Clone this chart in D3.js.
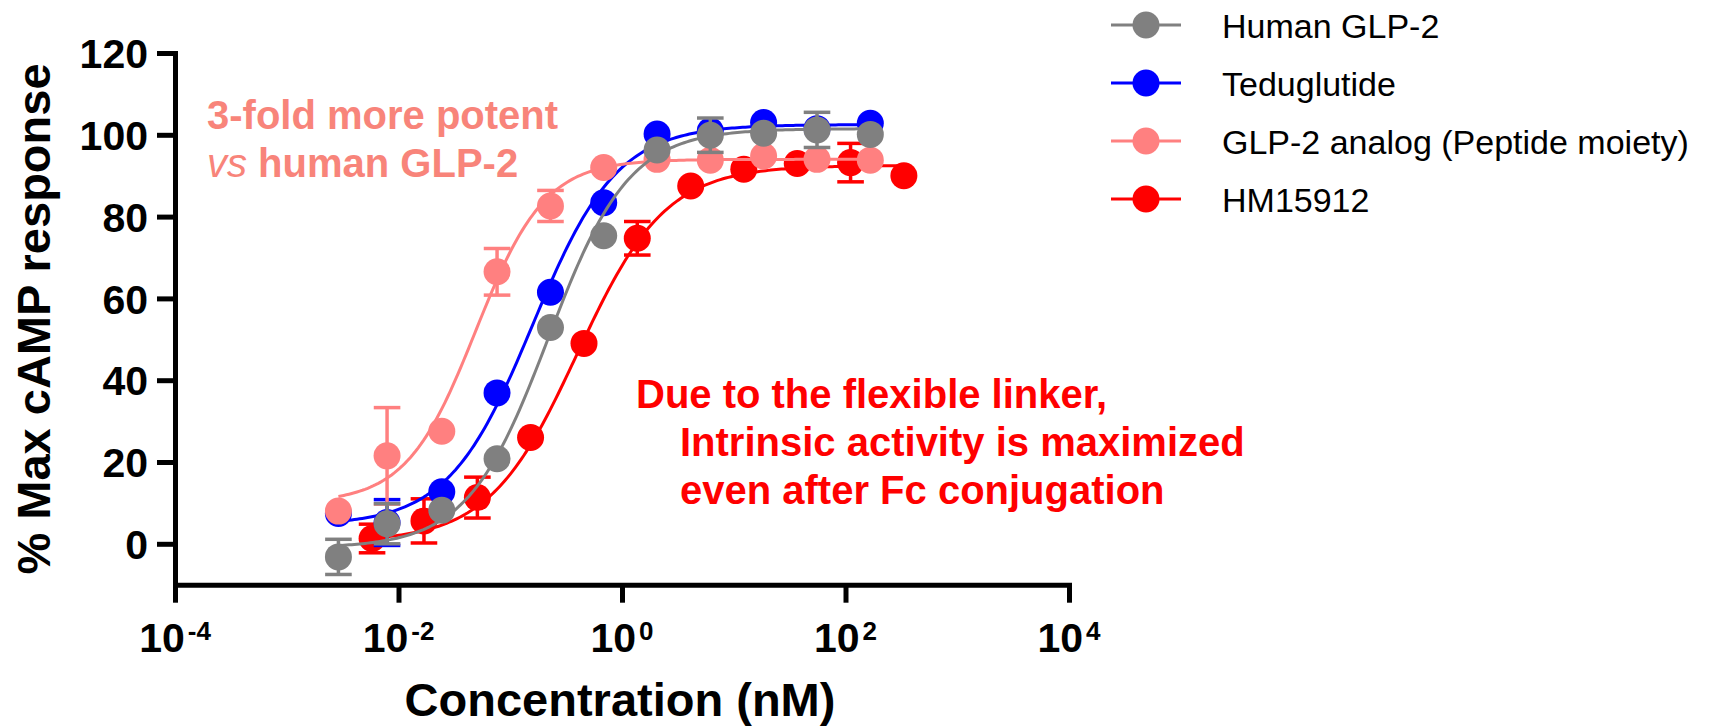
<!DOCTYPE html>
<html><head><meta charset="utf-8">
<script src="https://cdn.jsdelivr.net/npm/d3@7"></script>
<style>
body{margin:0;background:#fff}
svg{display:block}
text{font-family:"Liberation Sans",Arial,Helvetica,sans-serif}
</style>
</head><body>
<svg id="chart" width="1711" height="728"></svg>
<script>
// ---------- data ----------
const seriesNames  = ["Human GLP-2", "Teduglutide", "GLP-2 analog (Peptide moiety)", "HM15912"];
const seriesColors = ["#808080", "#0000FF", "#FF8080", "#FF0000"];

// concentrations (nM)
const concPeptides = [0.0029, 0.0079, 0.0244, 0.0762, 0.229, 0.686, 2.06, 6.17, 18.5, 55.6, 166.7];
const concHM15912  = [0.0058, 0.0169, 0.0508, 0.152, 0.457, 1.37, 4.12, 12.3, 37.0, 111, 333];

// % max cAMP response (mean) and SD (0 = hidden behind marker)
const humanGLP2     = [-3.2, 4.9, 8.2, 20.8, 52.9, 75.3, 96.3, 99.9, 100.4, 101.2, 100.1];
const humanGLP2SD   = [4.3, 4.9, 0, 0, 0, 0, 0, 4.2, 0, 4.3, 0];
const teduglutide   = [7.4, 5.2, 12.7, 36.9, 61.5, 83.4, 100.2, 101.0, 103.0, 101.5, 102.8];
const teduglutideSD = [0, 5.6, 0, 0, 0, 0, 0, 0, 0, 0, 0];
const analog        = [8.0, 21.5, 27.5, 66.5, 82.6, 92.0, 94.0, 93.8, 94.8, 94.0, 93.8];
const analogSD      = [0, 11.8, 0, 5.7, 3.8, 0, 0, 0, 0, 0, 0];
const hm15912       = [1.3, 5.6, 11.3, 26.0, 49.0, 74.7, 87.5, 91.6, 93.0, 93.2, 90.0];
const hm15912SD     = [3.5, 5.4, 5.0, 0, 0, 4.1, 0, 0, 0, 4.7, 0];

// fitted 4-parameter logistic curves
const fitBottom  = [-1, 4.5, 10, 0.5];
const fitTop     = [101.5, 102.5, 94, 92.5];
const fitLogEC50 = [-0.66, -0.80, -1.31, -0.40];
const fitHill    = [1.2, 1.15, 1.4, 1.1];

const yTicks   = [0, 20, 40, 60, 80, 100, 120];
const xTickExp = ["-4", "-2", "0", "2", "4"];

const annotPotent = ["3-fold more potent", "human GLP-2"];
const annotLinker = ["Due to the flexible linker,", "Intrinsic activity is maximized", "even after Fc conjugation"];

// ---------- build ----------
const series = [
  {name: seriesNames[0], color: seriesColors[0], conc: concPeptides, mean: humanGLP2, sd: humanGLP2SD, fit: 0},
  {name: seriesNames[1], color: seriesColors[1], conc: concPeptides, mean: teduglutide, sd: teduglutideSD, fit: 1},
  {name: seriesNames[2], color: seriesColors[2], conc: concPeptides, mean: analog, sd: analogSD, fit: 2},
  {name: seriesNames[3], color: seriesColors[3], conc: concHM15912, mean: hm15912, sd: hm15912SD, fit: 3}
];

const svg = d3.select("#chart");
const x = d3.scaleLog().domain([1e-4, 1e4]).range([175, 1069]);
const y = d3.scaleLinear().domain([-10, 120]).range([584.7, 53]);

// axes
const gy = svg.append("g").attr("transform", `translate(${x(1e-4)},0)`)
  .call(d3.axisLeft(y).tickValues(yTicks).tickSize(18).tickSizeOuter(0).tickPadding(9));
gy.select(".domain").attr("stroke", "#000").attr("stroke-width", 5).attr("stroke-linecap", "square");
gy.selectAll(".tick line").attr("stroke", "#000").attr("stroke-width", 5);
gy.selectAll(".tick text").attr("font-size", 41).attr("font-weight", "bold").attr("fill", "#000")
  .attr("font-family", '"Liberation Sans",Arial,sans-serif').attr("dy", "0.36em");

const xTickVals = xTickExp.map(e => Math.pow(10, +e));
const gx = svg.append("g").attr("transform", `translate(0,${y(-10)})`)
  .call(d3.axisBottom(x).tickValues(xTickVals).tickSize(18).tickSizeOuter(0).tickFormat(""));
gx.select(".domain").attr("stroke", "#000").attr("stroke-width", 5).attr("stroke-linecap", "square");
gx.selectAll(".tick line").attr("stroke", "#000").attr("stroke-width", 5);

const xl = svg.append("g").selectAll("text").data(xTickExp).join("text")
  .attr("x", d => x(Math.pow(10, +d)))
  .attr("y", 652)
  .attr("text-anchor", "middle")
  .attr("font-weight", "bold")
  .attr("font-size", 41)
  .attr("fill", "#000");
xl.append("tspan").text("10");
xl.append("tspan").attr("font-size", 26).attr("dx", 3).attr("dy", -12).text(d => d);

// axis titles
svg.append("text").attr("x", 620).attr("y", 716).attr("text-anchor", "middle")
  .attr("font-size", 47).attr("font-weight", "bold").text("Concentration (nM)");
svg.append("text").attr("transform", "translate(50,319) rotate(-90)").attr("text-anchor", "middle")
  .attr("font-size", 47).attr("font-weight", "bold").text("% Max cAMP response");

// series (drawn bottom to top)
const drawOrder = [3, 1, 2, 0];
const line = d3.line().x(d => x(d[0])).y(d => y(d[1])).curve(d3.curveLinear);
drawOrder.forEach(i => {
  const s = series[i];
  const g = svg.append("g");
  const lo = Math.log10(s.conc[0]), hi = Math.log10(s.conc[s.conc.length - 1]);
  const b = fitBottom[s.fit], t = fitTop[s.fit], ec = fitLogEC50[s.fit], h = fitHill[s.fit];
  const pts = d3.range(0, 201).map(k => {
    const lx = lo + (hi - lo) * k / 200;
    return [Math.pow(10, lx), b + (t - b) / (1 + Math.pow(10, (ec - lx) * h))];
  });
  g.append("path").datum(pts).attr("d", line).attr("fill", "none")
    .attr("stroke", s.color).attr("stroke-width", 3);
  const pd = s.conc.map((c, j) => ({c, m: s.mean[j], sd: s.sd[j]}));
  const eb = g.append("g").selectAll("g").data(pd.filter(d => d.sd > 0)).join("g")
    .attr("stroke", s.color).attr("stroke-width", 3.5);
  eb.append("line").attr("x1", d => x(d.c)).attr("x2", d => x(d.c))
    .attr("y1", d => y(d.m - d.sd)).attr("y2", d => y(d.m + d.sd));
  eb.append("line").attr("x1", d => x(d.c) - 13.3).attr("x2", d => x(d.c) + 13.3)
    .attr("y1", d => y(d.m + d.sd)).attr("y2", d => y(d.m + d.sd));
  eb.append("line").attr("x1", d => x(d.c) - 13.3).attr("x2", d => x(d.c) + 13.3)
    .attr("y1", d => y(d.m - d.sd)).attr("y2", d => y(d.m - d.sd));
  g.append("g").selectAll("circle").data(pd).join("circle")
    .attr("cx", d => x(d.c)).attr("cy", d => y(d.m)).attr("r", 13.5).attr("fill", s.color);
});

// annotations
const a1 = svg.append("text").attr("font-size", 40).attr("font-weight", "bold").attr("fill", "#F8847A");
a1.append("tspan").attr("x", 207).attr("y", 129).text(annotPotent[0]);
a1.append("tspan").attr("x", 207).attr("y", 177).attr("font-style", "italic").attr("font-weight", "normal").text("vs");
a1.append("tspan").text(" " + annotPotent[1]);

const a2 = svg.append("text").attr("font-size", 40).attr("font-weight", "bold").attr("fill", "#FF0000");
a2.append("tspan").attr("x", 636).attr("y", 408).text(annotLinker[0]);
a2.append("tspan").attr("x", 680).attr("y", 456).text(annotLinker[1]);
a2.append("tspan").attr("x", 680).attr("y", 504).text(annotLinker[2]);

// legend
const legendY = [25, 83, 141, 199];
const lg = svg.append("g").selectAll("g").data(series).join("g")
  .attr("transform", (d, i) => `translate(0,${legendY[i]})`);
lg.append("line").attr("x1", 1111).attr("x2", 1181).attr("y1", 0).attr("y2", 0)
  .attr("stroke", d => d.color).attr("stroke-width", 3);
lg.append("circle").attr("cx", 1146).attr("cy", 0).attr("r", 13.5).attr("fill", d => d.color);
lg.append("text").attr("x", 1222).attr("y", 13).attr("font-size", 34).attr("fill", "#000").text(d => d.name);
</script>
</body></html>
